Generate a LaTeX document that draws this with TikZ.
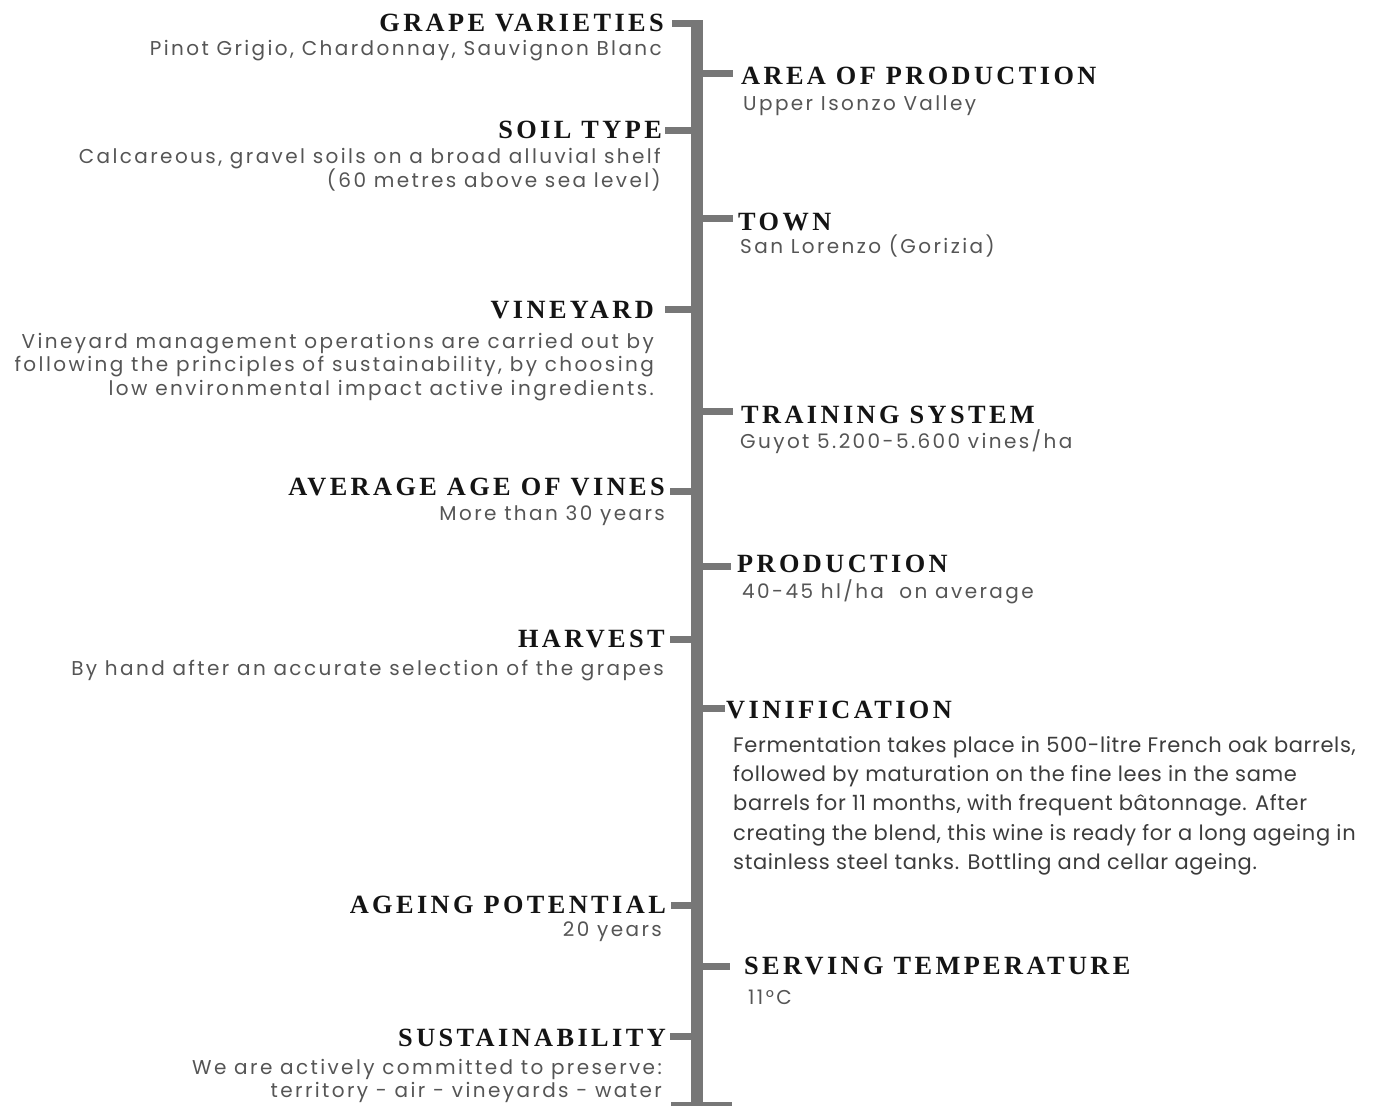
\documentclass[tikz,border=0pt]{standalone}
\usepackage{fontspec}
\setmainfont{Liberation Serif}
\newfontfamily\headfont[LetterSpace=13]{Liberation Serif}
\newfontfamily\bodyfont[LetterSpace=12]{Poppins}
\newfontfamily\vinfont[LetterSpace=3]{Poppins}
\definecolor{headc}{HTML}{141414}
\definecolor{bodyc}{HTML}{555555}
\definecolor{vinc}{HTML}{3C3C3C}
\definecolor{barc}{HTML}{777777}
\tikzset{
  hd/.style={font=\headfont\bfseries\fontsize{26.3}{26}\selectfont, text=headc, inner sep=0pt},
  hl/.style={hd, anchor=base east},
  hr/.style={hd, anchor=base west},
  bd/.style={font=\bodyfont\fontsize{20}{23}\selectfont, text=bodyc, inner sep=0pt},
  bl/.style={bd, anchor=base east},
  br/.style={bd, anchor=base west},
  vn/.style={font=\vinfont\fontsize{21}{29}\selectfont, text=vinc, inner sep=0pt, anchor=base west},
  tickline/.style={draw=barc, line width=7pt},
  barbox/.style={fill=barc, inner sep=0pt, minimum width=12pt, minimum height=1086pt}
}
\begin{document}
\begin{tikzpicture}[x=1pt,y=-1pt]
\useasboundingbox[fill=white] (0,0) rectangle (1377,1106);
\node[barbox] (bar) at (697,563) {};
% bottom foot
\coordinate (footl) at (671,1104);
\coordinate (footr) at (732,1104);
\draw[draw=barc, line width=4pt] (footl) -- (footr);

% ---- left side ----
\node[hl] (h1) at (664,31.5) {GRAPE VARIETIES};
\node[bl] (b1) at (662,55) {Pinot Grigio, Chardonnay, Sauvignon Blanc};
\coordinate (t1) at (672,23.5);
\draw[tickline] (t1) -- (t1 -| bar.east);

\node[hl] (h3) at (662,138.5) {SOIL TYPE};
\node[bl] (b3a) at (661,163) {Calcareous, gravel soils on a broad alluvial shelf};
\node[bl] (b3b) at (661,187) {(60 metres above sea level)};
\coordinate (t3) at (665,130);
\draw[tickline] (t3) -- (t3 -| bar.west);

\node[hl] (h5) at (654,318) {VINEYARD};
\node[bl] (b5a) at (654,348) {Vineyard management operations are carried out by};
\node[bl] (b5b) at (654,371.5) {following the principles of sustainability, by choosing};
\node[bl] (b5c) at (654,395) {low environmental impact active ingredients.};
\coordinate (t5) at (665,309.5);
\draw[tickline] (t5) -- (t5 -| bar.west);

\node[hl] (h7) at (665,495) {AVERAGE AGE OF VINES};
\node[bl] (b7) at (665,520) {More than 30 years};
\coordinate (t7) at (670,491.5);
\draw[tickline] (t7) -- (t7 -| bar.west);

\node[hl] (h9) at (665,647) {HARVEST};
\node[bl] (b9) at (664,675) {By hand after an accurate selection of the grapes};
\coordinate (t9) at (670,639);
\draw[tickline] (t9) -- (t9 -| bar.west);

\node[hl] (h11) at (666,913) {AGEING POTENTIAL};
\node[bl] (b11) at (662,936) {20 years};
\coordinate (t11) at (671,905);
\draw[tickline] (t11) -- (t11 -| bar.west);

\node[hl] (h13) at (666,1046) {SUSTAINABILITY};
\node[bl] (b13a) at (662,1074) {We are actively committed to preserve:};
\node[bl] (b13b) at (662,1097) {territory - air - vineyards - water};
\coordinate (t13) at (670,1036);
\draw[tickline] (t13) -- (t13 -| bar.west);

% ---- right side ----
\node[hr] (h2) at (741,84) {AREA OF PRODUCTION};
\node[br] (b2) at (743,110) {Upper Isonzo Valley};
\coordinate (t2) at (733,73);
\draw[tickline] (bar.east |- t2) -- (t2);

\node[hr] (h4) at (738,230) {TOWN};
\node[br] (b4) at (740,253) {San Lorenzo (Gorizia)};
\coordinate (t4) at (733,218);
\draw[tickline] (bar.east |- t4) -- (t4);

\node[hr] (h6) at (741,423) {TRAINING SYSTEM};
\node[br] (b6) at (740,448) {Guyot 5.200-5.600 vines/ha};
\coordinate (t6) at (733,411);
\draw[tickline] (bar.east |- t6) -- (t6);

\node[hr] (h8) at (737,572.5) {PRODUCTION};
\node[br] (b8) at (742,598) {40-45 hl/ha\ \ on average};
\coordinate (t8) at (731,566);
\draw[tickline] (bar.east |- t8) -- (t8);

\node[hr] (h10) at (726,718) {VINIFICATION};
\node[vn] (b10a) at (733,752) {Fermentation takes place in 500-litre French oak barrels,};
\node[vn] (b10b) at (733,781) {followed by maturation on the fine lees in the same};
\node[vn] (b10c) at (733,810) {barrels for 11 months, with frequent bâtonnage. After};
\node[vn] (b10d) at (733,840) {creating the blend, this wine is ready for a long ageing in};
\node[vn] (b10e) at (733,869) {stainless steel tanks. Bottling and cellar ageing.};
\coordinate (t10) at (725,708);
\draw[tickline] (bar.east |- t10) -- (t10);

\node[hr] (h12) at (744,974) {SERVING TEMPERATURE};
\node[br] (b12) at (748,1004) {11°C};
\coordinate (t12) at (730,966.5);
\draw[tickline] (bar.east |- t12) -- (t12);
\end{tikzpicture}
\end{document}
